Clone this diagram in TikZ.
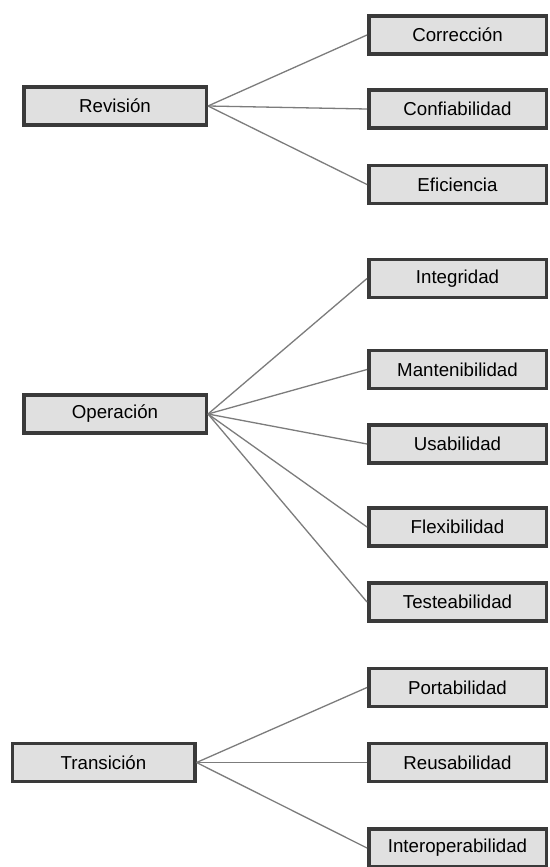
\documentclass[tikz,border=0pt]{standalone}
\usepackage{fontspec}
\setsansfont{Liberation Sans}
\usepackage{tikz}
\usepackage{xcolor}
\usetikzlibrary{positioning}

\definecolor{boxline}{HTML}{3A3A3A}
\definecolor{boxfill}{HTML}{E0E0E0}
\definecolor{linkgray}{HTML}{7C7C7C}

\tikzset{
  box/.style={draw=boxline, fill=boxfill, line width=3.5pt, inner sep=0pt,
    minimum height=38pt, font=\sffamily\fontsize{18.7}{21}\selectfont},
  parentbox/.style={box, minimum width=182.5pt},
  childbox/.style={box, minimum width=177.5pt},
  link/.style={draw=linkgray, line width=1.3pt}
}

\begin{document}
\begin{tikzpicture}[x=1pt,y=-1pt]
  \useasboundingbox[fill=white] (0,0) rectangle (549,867);

  % Revision group
  \node[parentbox] (rev) at (115,106) {Revisión};
  \foreach \name/\ypos/\txt in {cor/35/Corrección, con/109/Confiabilidad, efi/184.5/Eficiencia}
    \node[childbox] (\name) at (457.5,\ypos) {\txt};
  \foreach \name in {cor,con,efi}
    \draw[link] (rev.east) -- (\name.west);

  % Operation group
  \node[parentbox] (ope) at (115,414) {Operación};
  \foreach \name/\ypos/\txt in {int/278.5/Integridad, man/369.5/Mantenibilidad,
      usa/444/Usabilidad, fle/527/Flexibilidad, tes/602/Testeabilidad}
    \node[childbox] (\name) at (457.5,\ypos) {\txt};
  \foreach \name in {int,man,usa,fle,tes}
    \draw[link] (ope.east) -- (\name.west);

  % Transition group
  \node[parentbox] (tra) at (103.5,762.5) {Transición};
  \foreach \name/\ypos/\txt in {por/687.5/Portabilidad, reu/762.5/Reusabilidad, ito/848/Interoperabilidad}
    \node[childbox] (\name) at (457.5,\ypos) {\txt};
  \foreach \name in {por,reu,ito}
    \draw[link] (tra.east) -- (\name.west);
\end{tikzpicture}
\end{document}
